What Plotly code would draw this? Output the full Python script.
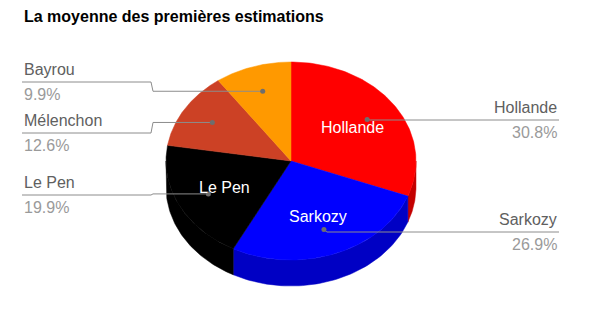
import numpy as np
import plotly.graph_objects as go

# ---- data ----
candidates = ["Hollande", "Sarkozy", "Le Pen", "Mélenchon", "Bayrou"]
shares = [30.8, 26.9, 19.9, 12.6, 9.9]
pct_labels = ["30.8%", "26.9%", "19.9%", "12.6%", "9.9%"]
top_colors = ["#ff0000", "#0000ff", "#000000", "#cc4125", "#ff9900"]
side_colors = ["#c40000", "#0000c4", "#000000", "#9e321c", "#c77700"]
inner_label = [True, True, True, False, False]
title = "La moyenne des premières estimations"

# ---- layout constants (pixel space) ----
W, H = 610, 326
cx, cy, rx, ry, depth = 291, 161, 125, 99, 26
label_side = ["right", "right", "left", "left", "left"]
label_line_y = [120, 232, 195, 133, 82]
left_x, right_x, jog_x = 22, 559, 151
FONT = "Liberation Sans, Arial, Helvetica, sans-serif"


def pt(theta_deg, r=1.0, dy=0.0):
    t = np.radians(theta_deg)
    return cx + r * rx * np.sin(t), cy - r * ry * np.cos(t) + dy


total = sum(shares)
bounds = np.concatenate([[0], np.cumsum(shares) / total * 360])

fig = go.Figure()

# side walls (front half: 90..270 deg)
for i, c in enumerate(candidates):
    a0, a1 = max(bounds[i], 90), min(bounds[i + 1], 270)
    if a1 <= a0:
        continue
    th = np.linspace(a0, a1, 60)
    xt, yt = pt(th)
    xb, yb = pt(th[::-1], dy=depth)
    fig.add_trace(go.Scatter(x=np.concatenate([xt, xb, xt[:1]]), y=np.concatenate([yt, yb, yt[:1]]),
                             mode="lines", fill="toself", fillcolor=side_colors[i],
                             line=dict(width=0.5, color=side_colors[i]), hoverinfo="skip", showlegend=False))

# top faces
for i, c in enumerate(candidates):
    th = np.linspace(bounds[i], bounds[i + 1], 120)
    xs, ys = pt(th)
    fig.add_trace(go.Scatter(x=np.concatenate([[cx], xs, [cx]]), y=np.concatenate([[cy], ys, [cy]]),
                             mode="lines", fill="toself", fillcolor=top_colors[i],
                             line=dict(width=0.5, color=top_colors[i]), hoverinfo="skip", showlegend=False,
                             name=c))

annotations = []
# leader lines, dots, labels
for i, c in enumerate(candidates):
    mid = (bounds[i] + bounds[i + 1]) / 2
    dx, dyy = pt(mid, r=0.74)
    ly = label_line_y[i]
    if label_side[i] == "right":
        xs, ys = [dx, dx + 3, right_x], [dyy, ly, ly]
        ax, anchor = right_x, "right"
    else:
        xs, ys = [left_x, jog_x, jog_x + 2, dx], [ly, ly, dyy, dyy]
        ax, anchor = left_x, "left"
    fig.add_trace(go.Scatter(x=xs, y=ys, mode="lines", line=dict(color="#8c8c8c", width=1),
                             hoverinfo="skip", showlegend=False))
    fig.add_trace(go.Scatter(x=[dx], y=[dyy], mode="markers", marker=dict(color="#6e6e6e", size=5),
                             hoverinfo="skip", showlegend=False))
    annotations.append(dict(x=ax, y=ly - 13, xref="x", yref="y", text=c, showarrow=False,
                            xanchor=anchor, yanchor="middle", font=dict(family=FONT, size=16, color="#606060")))
    annotations.append(dict(x=ax, y=ly + 12, xref="x", yref="y", text=pct_labels[i], showarrow=False,
                            xanchor=anchor, yanchor="middle", font=dict(family=FONT, size=16, color="#9a9a9a")))
    if inner_label[i]:
        tx, ty = pt(mid, r=0.6)
        annotations.append(dict(x=tx, y=ty, xref="x", yref="y", text=c, showarrow=False,
                                xanchor="center", yanchor="middle", font=dict(family=FONT, size=16, color="#ffffff")))

annotations.append(dict(x=left_x, y=16, xref="x", yref="y", text="<b>" + title + "</b>", showarrow=False,
                        xanchor="left", yanchor="middle", font=dict(family=FONT, size=16, color="#000000")))

fig.update_layout(
    width=W, height=H, margin=dict(l=0, r=0, t=0, b=0),
    paper_bgcolor="white", plot_bgcolor="white",
    xaxis=dict(range=[0, W], visible=False, fixedrange=True),
    yaxis=dict(range=[H, 0], visible=False, fixedrange=True),
    annotations=annotations, showlegend=False,
)

fig.write_html("out.html")
